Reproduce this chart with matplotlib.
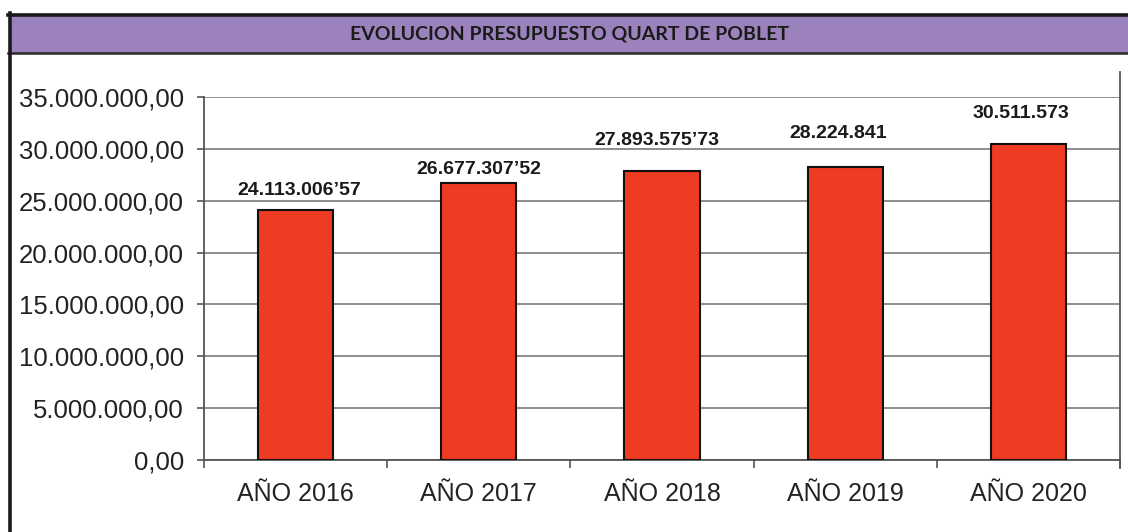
import matplotlib
matplotlib.use("Agg")
import matplotlib.pyplot as plt
from matplotlib.patches import Rectangle
from matplotlib.lines import Line2D
from matplotlib.ticker import FuncFormatter, MultipleLocator, FixedLocator

categories = ["AÑO 2016", "AÑO 2017", "AÑO 2018", "AÑO 2019", "AÑO 2020"]
values = [24113006.57, 26677307.52, 27893575.73, 28224841, 30511573]
value_labels = ["24.113.006’57", "26.677.307’52", "27.893.575’73", "28.224.841", "30.511.573"]
title = "EVOLUCION PRESUPUESTO QUART DE POBLET"

# label offsets (px) relative to bar top center
label_dx = [4, 0, -5, -7, -8]
label_dy = [15, 9, 26, 29, 26]

W, H = 1128, 532
fig = plt.figure(figsize=(W / 100, H / 100), dpi=100)
fig.patch.set_facecolor("white")

def fx(px):
    return px / W

def fy(py):
    return 1 - py / H

# title bar
fig.patches.append(Rectangle((fx(9), fy(53)), 1 - fx(9), fy(15) - fy(53),
                             transform=fig.transFigure, facecolor="#9c82bd",
                             edgecolor="none", zorder=0))
fig.lines.append(Line2D([fx(8), 1], [fy(14.5), fy(14.5)], transform=fig.transFigure,
                        color="#1a1a1a", lw=2.6))
fig.lines.append(Line2D([fx(8), 1], [fy(53), fy(53)], transform=fig.transFigure,
                        color="#2a2a2a", lw=1.8))
fig.lines.append(Line2D([fx(10), fx(10)], [fy(13), 0], transform=fig.transFigure,
                        color="#1a1a1a", lw=2.6))
fig.text(fx(569), fy(34), title, ha="center", va="center", fontsize=14,
         fontweight="bold", family="Lato", color="#1a1a1a")

# plot area
ax = fig.add_axes([fx(204), fy(460), fx(1120) - fx(204), fy(97) - fy(460)])
ax.set_facecolor("white")
x = list(range(len(categories)))
ax.bar(x, values, width=0.41, color="#ee3b22", edgecolor="#111111", linewidth=1.5, zorder=3)

ax.set_xlim(-0.5, len(categories) - 0.5)
ax.set_ylim(0, 35000000)
ax.yaxis.set_major_locator(MultipleLocator(5000000))
ax.yaxis.set_major_formatter(FuncFormatter(
    lambda v, p: f"{v:,.2f}".replace(",", "X").replace(".", ",").replace("X", ".")))
ax.grid(axis="y", color="#7a7a7a", lw=1.2, zorder=1)
ax.set_axisbelow(True)

ax.set_xticks(x)
ax.set_xticklabels(categories)
ax.xaxis.set_minor_locator(FixedLocator([i - 0.5 for i in range(len(categories) + 1)]))
ax.tick_params(axis="x", which="major", length=0, pad=16, labelsize=18, labelcolor="#222222")
ax.tick_params(axis="x", which="minor", length=5.5, width=1.2, color="#555555", direction="out")
ax.tick_params(axis="y", length=5, width=1.2, color="#555555", pad=9.5, labelsize=18.5,
               labelcolor="#222222")
for lab in ax.get_xticklabels() + ax.get_yticklabels():
    lab.set_family("Liberation Sans")

for s in ["top", "right"]:
    ax.spines[s].set_visible(False)
for s in ["left", "bottom"]:
    ax.spines[s].set_color("#555555")
    ax.spines[s].set_linewidth(1.3)

fig.lines.append(Line2D([fx(1120), fx(1120)], [fy(72), fy(468)], transform=fig.transFigure,
                        color="#555555", lw=1.3))

for xi, v, lab, dx, dy in zip(x, values, value_labels, label_dx, label_dy):
    ax.annotate(lab, (xi, v), xytext=(dx * 0.72, dy * 0.72), textcoords="offset points",
                ha="center", va="baseline", fontsize=14, fontweight="bold",
                family="Liberation Sans", color="#1a1a1a", zorder=5)

fig.savefig("out.png", dpi=100)
